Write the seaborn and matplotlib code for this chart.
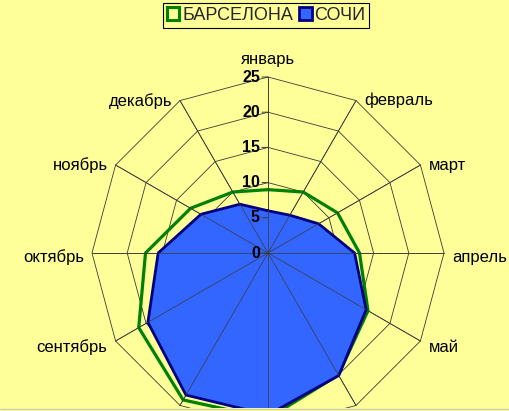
import numpy as np
import pandas as pd
import seaborn as sns
import matplotlib.pyplot as plt
from matplotlib.patches import Patch, Rectangle
from matplotlib.lines import Line2D

# данные (средняя температура по месяцам)
months = ["январь", "февраль", "март", "апрель", "май", "июнь",
          "июль", "август", "сентябрь", "октябрь", "ноябрь", "декабрь"]
barcelona = [9.0, 10.0, 11.4, 13.0, 16.4, 20.0, 23.5, 24.1, 21.2, 17.4, 12.7, 10.0]
sochi = [6.0, 6.2, 8.3, 12.3, 16.1, 20.1, 23.0, 23.3, 19.7, 15.6, 11.0, 8.0]
r_ticks = [0, 5, 10, 15, 20, 25]
series_names = ["БАРСЕЛОНА", "СОЧИ"]

bg = "#FFFF99"
green = "#008000"
blue_fill = "#3366FF"
blue_edge = "#000080"
grid_col = "#3a3a3a"

sns.set_theme(style="white")
plt.rcParams["font.family"] = ["Liberation Sans", "DejaVu Sans"]

n = len(months)
angles = np.linspace(0, 2 * np.pi, n, endpoint=False)
ang_closed = np.append(angles, 2 * np.pi)

df = pd.DataFrame({
    "angle": np.tile(ang_closed, 2),
    "value": barcelona + barcelona[:1] + sochi + sochi[:1],
    "city": [series_names[0]] * (n + 1) + [series_names[1]] * (n + 1),
})

fig = plt.figure(figsize=(5.10, 4.11), dpi=100)
fig.patch.set_facecolor(bg)

# центр ~ (268, 253) px, радиус 25 -> 176 px
cx, cy, rad = 268, 253, 176
W, H = 510, 411
ax = fig.add_axes([(cx - rad) / W, (H - cy - rad) / H, 2 * rad / W, 2 * rad / H],
                  projection="polar")
ax.set_facecolor(bg)
ax.set_theta_zero_location("N")
ax.set_theta_direction(-1)
ax.set_ylim(0, r_ticks[-1])
ax.set_xticks([])
ax.set_yticks([])
ax.grid(False)
ax.spines["polar"].set_visible(False)

# многоугольная сетка и лучи
for t in r_ticks[1:]:
    ax.plot(ang_closed, [t] * (n + 1), color=grid_col, lw=0.6, zorder=1)
for a in angles:
    ax.plot([a, a], [0, r_ticks[-1]], color=grid_col, lw=0.6, zorder=1)

# Барселона - линия, Сочи - заливка поверх
d_bcn = df[df["city"] == series_names[0]]
d_sochi = df[df["city"] == series_names[1]]
sns.lineplot(data=d_bcn, x="angle", y="value", color=green, lw=2.3, sort=False,
             ax=ax, zorder=3, legend=False)
ax.fill(d_sochi["angle"], d_sochi["value"], color=blue_fill, zorder=4)
sns.lineplot(data=d_sochi, x="angle", y="value", color=blue_edge, lw=2.0, sort=False,
             ax=ax, zorder=5, legend=False)
ax.set_xlabel("")
ax.set_ylabel("")

# лучи поверх заливки (видны внутри синей области)
for a in angles:
    ax.plot([a, a], [0, r_ticks[-1]], color=grid_col, lw=0.5, zorder=6)

# область построения обрезана снизу (как в исходной диаграмме)
clip_rect = Rectangle((0, 3.0 / H), 1, 1, transform=fig.transFigure)
for art in ax.lines + ax.patches + ax.collections:
    art.set_clip_on(True)
    art.set_clip_path(clip_rect)

# подписи оси значений
for t in r_ticks:
    ax.annotate("", xy=(0, t), xytext=(-6, 0), textcoords="offset pixels",
                arrowprops=dict(arrowstyle="-", color=grid_col, lw=0.7,
                                shrinkA=0, shrinkB=0), zorder=7)
    ax.annotate(str(t), xy=(0, t), xytext=(-8, 0), textcoords="offset pixels",
                ha="right", va="center", fontsize=11.5, fontweight="bold",
                color="black", zorder=8)

# подписи месяцев (нижние уходят за край области и не видны)
for a, m in zip(angles, months):
    s, c = np.sin(a), np.cos(a)
    if c < -0.8:
        continue
    if abs(s) < 0.01:
        ha, dx, va, dy = "center", 0, "bottom", 10
    else:
        ha = "left" if s > 0 else "right"
        dx = 8 if s > 0 else -8
        va = "center"
        dy = 0 if c > 0.1 else (-4 if c > -0.1 else -6)
    ax.annotate(m, xy=(a, r_ticks[-1]), xytext=(dx, dy), textcoords="offset pixels",
                ha=ha, va=va, fontsize=12, color="black", annotation_clip=False)

# легенда
handles = [Patch(facecolor="none", edgecolor=green, lw=2.2),
           Patch(facecolor=blue_fill, edgecolor=blue_edge, lw=2.0)]
leg = fig.legend(handles, series_names, loc="upper center", bbox_to_anchor=(0.522, 0.992),
                 ncol=2, frameon=True, fancybox=False, edgecolor="black", facecolor=bg,
                 framealpha=1, borderpad=0.2, handlelength=0.7, handleheight=0.7,
                 handletextpad=0.15, columnspacing=0.35, fontsize=13, borderaxespad=0)
leg.get_frame().set_linewidth(0.8)

# тонкая граница области построения снизу
fig.add_artist(Line2D([0, 1], [2.5 / H, 2.5 / H], transform=fig.transFigure,
                      color="#cfcfb0", lw=1))

fig.savefig("out.png", dpi=100, facecolor=bg)
